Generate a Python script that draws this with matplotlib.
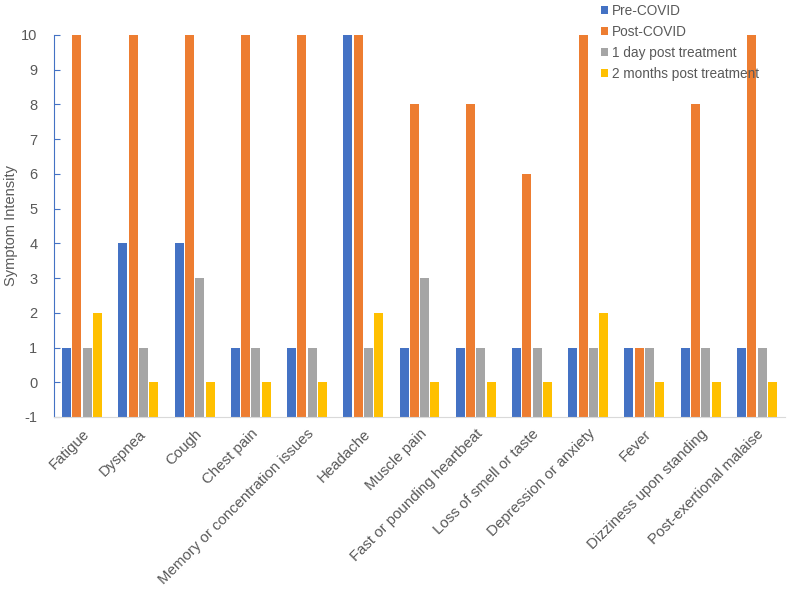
import numpy as np
import matplotlib.pyplot as plt

plt.rcParams['font.family'] = ['Liberation Sans', 'DejaVu Sans']
plt.rcParams['axes.unicode_minus'] = False

categories = ['Fatigue', 'Dyspnea', 'Cough', 'Chest pain',
              'Memory or concentration issues', 'Headache', 'Muscle pain',
              'Fast or pounding heartbeat', 'Loss of smell or taste',
              'Depression or anxiety', 'Fever', 'Dizziness upon standing',
              'Post-exertional malaise']
series_names = ['Pre-COVID', 'Post-COVID', '1 day post treatment',
                '2 months post treatment']
pre_covid = [1, 4, 4, 1, 1, 10, 1, 1, 1, 1, 1, 1, 1]
post_covid = [10, 10, 10, 10, 10, 10, 8, 8, 6, 10, 1, 8, 10]
day1_post = [1, 1, 3, 1, 1, 1, 3, 1, 1, 1, 1, 1, 1]
months2_post = [2, 0, 0, 0, 0, 2, 0, 0, 0, 2, 0, 0, 0]
colors = ['#4472C4', '#ED7D31', '#A5A5A5', '#FFC000']

text_col = '#595959'
base = -1

fig = plt.figure(figsize=(7.87, 5.91), dpi=100)
ax = fig.add_axes([54/787, (591-417)/591, (785-54)/787, (417-35)/591])

x = np.arange(len(categories))
step = 0.183
width = 0.16
for i, (vals, name, c) in enumerate(zip([pre_covid, post_covid, day1_post, months2_post],
                                         series_names, colors)):
    vals = np.array(vals)
    ax.bar(x + (i - 1.5) * step, vals - base, width, bottom=base, color=c, label=name)

ax.set_xlim(-0.5, len(categories) - 0.5)
ax.set_ylim(-1, 10)
ax.set_yticks(range(-1, 11))
ax.set_xticks(x)
ax.set_xticklabels(categories, rotation=45, ha='right', rotation_mode='anchor',
                   fontsize=10.8, color=text_col)
ax.tick_params(axis='x', length=0, pad=7)
ax.tick_params(axis='y', direction='in', length=4, color='#4472C4', labelsize=10.5,
               labelcolor=text_col, pad=12)
ax.set_ylabel('Symptom Intensity', fontsize=10.5, color=text_col)
ax.yaxis.set_label_coords(-0.049, 0.5)

for s in ['top', 'right']:
    ax.spines[s].set_visible(False)
ax.spines['left'].set_color('#4472C4')
ax.spines['bottom'].set_color('#D9D9D9')

leg = fig.legend(loc='upper left', bbox_to_anchor=(589/787, 1.014), frameon=False,
                 fontsize=9.8, handlelength=0.5, handleheight=0.5, handletextpad=0.3,
                 labelspacing=0.52, labelcolor=text_col)

plt.savefig('out.png', dpi=100)
